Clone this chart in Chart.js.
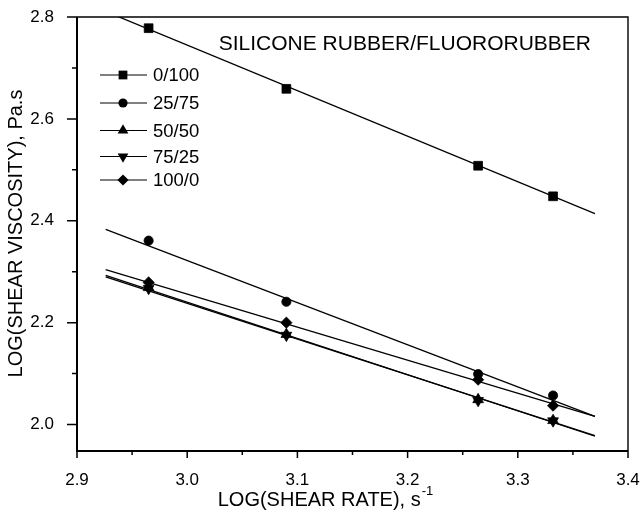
<!DOCTYPE html>
<html>
<head>
<meta charset="utf-8">
<script src="https://cdn.jsdelivr.net/npm/chart.js@4"></script>
<style>
  html, body { margin: 0; padding: 0; background: #fff; }
  #wrap { width: 640px; height: 521px; }
</style>
</head>
<body>
<div id="wrap"><canvas id="viscChart" width="640" height="521"></canvas></div>
<script>
// Shear viscosity vs shear rate, silicone rubber / fluororubber blends

// log(shear rate), same for all blends
var shearRate = [2.965, 3.09, 3.264, 3.332];

// log(shear viscosity) per blend ratio
var blend0_100 = [2.778, 2.659, 2.508, 2.448];
var blend25_75 = [2.361, 2.241, 2.099, 2.057];
var blend50_50 = [2.269, 2.177, 2.049, 2.008];
var blend75_25 = [2.267, 2.175, 2.047, 2.007];
var blend100_0 = [2.279, 2.200, 2.088, 2.037];

// fitted straight lines, read at both ends
var fitX = [2.926, 3.370];
var fit0_100 = [2.811, 2.414];
var fit25_75 = [2.383, 2.016];
var fit50_50 = [2.293, 1.977];
var fit75_25 = [2.290, 1.978];
var fit100_0 = [2.304, 2.016];

var blendLabels = ['0/100', '25/75', '50/50', '75/25', '100/0'];

// axis ticks
var xMajor = [2.9, 3.0, 3.1, 3.2, 3.3, 3.4];
var xMinor = [2.95, 3.05, 3.15, 3.25, 3.35];
var yMajor = [2.0, 2.2, 2.4, 2.6, 2.8];
var yMinor = [2.1, 2.3, 2.5, 2.7];

var FONT = '"Liberation Sans", Arial, sans-serif';

var markers = [
  { style: 'rect', radius: 6.2, rotation: 0 },
  { style: 'circle', radius: 4.6, rotation: 0 },
  { style: 'triangle', radius: 6.2, rotation: 0 },
  { style: 'triangle', radius: 6.2, rotation: 180 },
  { style: 'rectRot', radius: 5.6, rotation: 0 }
];

function pts(xs, ys) {
  return xs.map(function (x, i) { return { x: x, y: ys[i] }; });
}

var seriesVals = [blend0_100, blend25_75, blend50_50, blend75_25, blend100_0];
var fitVals = [fit0_100, fit25_75, fit50_50, fit75_25, fit100_0];

var datasets = [];
fitVals.forEach(function (f, i) {
  datasets.push({
    label: blendLabels[i] + ' fit',
    data: pts(fitX, f),
    showLine: true,
    borderColor: '#000',
    borderWidth: 1.3,
    pointRadius: 0,
    fill: false
  });
});
seriesVals.forEach(function (v, i) {
  datasets.push({
    label: blendLabels[i],
    data: pts(shearRate, v),
    showLine: false,
    pointStyle: markers[i].style,
    pointRadius: markers[i].radius,
    pointRotation: markers[i].rotation,
    backgroundColor: '#000',
    borderColor: '#000',
    borderWidth: 0.8
  });
});

function drawMarker(ctx, m, x, y) {
  var r = m.radius;
  ctx.beginPath();
  if (m.style === 'rect') {
    var s = r * Math.SQRT1_2;
    ctx.rect(x - s, y - s, 2 * s, 2 * s);
  } else if (m.style === 'circle') {
    ctx.arc(x, y, r, 0, Math.PI * 2);
  } else if (m.style === 'rectRot') {
    ctx.moveTo(x, y - r); ctx.lineTo(x + r, y); ctx.lineTo(x, y + r); ctx.lineTo(x - r, y);
  } else {
    var dir = m.rotation ? -1 : 1;
    var a = 0;
    for (var k = 0; k < 3; k++) {
      var px = x + Math.sin(a) * r;
      var py = y - dir * Math.cos(a) * r;
      if (k === 0) ctx.moveTo(px, py); else ctx.lineTo(px, py);
      a += Math.PI * 2 / 3;
    }
  }
  ctx.closePath();
  ctx.fill();
}

var framePlugin = {
  id: 'frame',
  afterDraw: function (chart) {
    var c = chart.ctx;
    var a = chart.chartArea;
    var xs = chart.scales.x, ys = chart.scales.y;
    c.save();
    c.strokeStyle = '#000';
    c.fillStyle = '#000';

    // frame
    c.lineWidth = 1.4;
    c.beginPath();
    c.moveTo(a.left, a.top); c.lineTo(a.right, a.top); c.lineTo(a.right, a.bottom);
    c.stroke();
    c.lineWidth = 2;
    c.beginPath();
    c.moveTo(a.left, a.top); c.lineTo(a.left, a.bottom + 1); c.lineTo(a.right, a.bottom + 1);
    c.stroke();

    // outward ticks
    c.lineWidth = 1.5;
    c.beginPath();
    xMajor.forEach(function (v) { var p = xs.getPixelForValue(v); c.moveTo(p, a.bottom); c.lineTo(p, a.bottom + 8); });
    xMinor.forEach(function (v) { var p = xs.getPixelForValue(v); c.moveTo(p, a.bottom); c.lineTo(p, a.bottom + 5); });
    yMajor.forEach(function (v) { var p = ys.getPixelForValue(v); c.moveTo(a.left, p); c.lineTo(a.left - 10, p); });
    yMinor.forEach(function (v) { var p = ys.getPixelForValue(v); c.moveTo(a.left, p); c.lineTo(a.left - 5, p); });
    c.stroke();

    // inner title
    c.font = '21px ' + FONT;
    c.textAlign = 'right';
    c.textBaseline = 'alphabetic';
    c.fillText('SILICONE RUBBER/FLUORORUBBER', 591, 50);

    // legend
    var rowY = [75, 103, 130.5, 156.5, 180];
    c.font = '18.5px ' + FONT;
    c.textAlign = 'left';
    c.textBaseline = 'middle';
    rowY.forEach(function (y, i) {
      c.lineWidth = 1;
      c.beginPath();
      c.moveTo(100, y); c.lineTo(147, y);
      c.stroke();
      drawMarker(c, markers[i], 123, y);
      c.fillText(blendLabels[i], 153, y + 1);
    });

    // x axis title with superscript
    var main = 'LOG(SHEAR RATE), s';
    c.font = '20px ' + FONT;
    c.textBaseline = 'alphabetic';
    var w = c.measureText(main).width;
    c.font = '13px ' + FONT;
    var w2 = c.measureText('-1').width;
    var x0 = 325 - (w + w2) / 2;
    c.font = '20px ' + FONT;
    c.fillText(main, x0, 506);
    c.font = '13px ' + FONT;
    c.fillText('-1', x0 + w + 1, 495);
    c.restore();
  }
};

new Chart(document.getElementById('viscChart'), {
  type: 'scatter',
  data: { datasets: datasets },
  plugins: [framePlugin],
  options: {
    responsive: false,
    animation: false,
    layout: { padding: { left: 4, right: 12, top: 17, bottom: 0 } },
    plugins: {
      legend: { display: false },
      tooltip: { enabled: false }
    },
    scales: {
      x: {
        type: 'linear',
        min: 2.9,
        max: 3.4,
        afterBuildTicks: function (s) { s.ticks = xMajor.map(function (v) { return { value: v }; }); },
        afterFit: function (s) { s.height = 71; s.paddingLeft = 0; s.paddingRight = 0; },
        grid: { display: false },
        border: { display: false },
        ticks: {
          autoSkip: false,
          maxRotation: 0,
          padding: 12,
          color: '#000',
          font: { family: FONT, size: 17 },
          callback: function (v) { return Number(v).toFixed(1); }
        }
      },
      y: {
        type: 'linear',
        min: 1.95,
        max: 2.8,
        afterBuildTicks: function (s) { s.ticks = yMajor.map(function (v) { return { value: v }; }); },
        afterFit: function (s) { s.width = 73; s.paddingTop = 0; s.paddingBottom = 0; },
        grid: { display: false },
        border: { display: false },
        title: {
          display: true,
          text: 'LOG(SHEAR VISCOSITY), Pa.s',
          color: '#000',
          font: { family: FONT, size: 20 },
          padding: { top: 0, bottom: 6 }
        },
        ticks: {
          autoSkip: false,
          padding: 15,
          color: '#000',
          font: { family: FONT, size: 17 },
          callback: function (v) { return Number(v).toFixed(1); }
        }
      }
    }
  }
});
</script>
</body>
</html>
